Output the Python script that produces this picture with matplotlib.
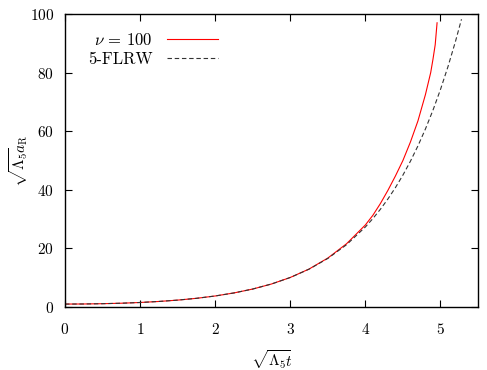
import matplotlib
matplotlib.use("Agg")
import matplotlib.pyplot as plt

# --- data ---
t_flrw = [0.0, 0.25, 0.5, 0.75, 1.0, 1.25, 1.5, 1.75, 2.0, 2.25, 2.5, 2.75,
          3.0, 3.25, 3.5, 3.75, 4.0, 4.1, 4.2, 4.3, 4.4, 4.5, 4.6, 4.7,
          4.8, 4.9, 5.0, 5.1, 5.2, 5.28]
a_flrw = [1.00, 1.03, 1.13, 1.29, 1.54, 1.89, 2.35, 2.96, 3.76, 4.80, 6.13, 7.85,
          10.07, 12.91, 16.57, 21.27, 27.31, 30.18, 33.35, 36.86, 40.73, 45.01, 49.75, 54.98,
          60.76, 67.15, 74.21, 82.02, 90.64, 98.2]

t_nu = [0.0, 0.25, 0.5, 0.75, 1.0, 1.25, 1.5, 1.75, 2.0, 2.25, 2.5, 2.75,
        3.0, 3.25, 3.5, 3.75, 4.0, 4.1, 4.2, 4.3, 4.4, 4.5, 4.6, 4.7,
        4.8, 4.87, 4.9, 4.93, 4.955]
a_nu = [1.00, 1.03, 1.13, 1.29, 1.54, 1.89, 2.35, 2.96, 3.76, 4.80, 6.13, 7.85,
        10.08, 12.95, 16.7, 21.6, 28.0, 31.3, 35.3, 39.8, 44.7, 50.0, 56.3, 63.5,
        72.5, 80.0, 84.5, 89.5, 97.0]

label_nu = r"$\nu$ = 100"
label_flrw = "5-FLRW"
xticks = [0, 1, 2, 3, 4, 5]
yticks = [0, 20, 40, 60, 80, 100]

plt.rcParams["font.family"] = "serif"
plt.rcParams["font.serif"] = ["cmr10", "DejaVu Serif"]
plt.rcParams["mathtext.fontset"] = "cm"
plt.rcParams["axes.formatter.use_mathtext"] = True
plt.rcParams["font.size"] = 11

fig = plt.figure(figsize=(4.87, 3.70), dpi=100)
ax = fig.add_axes([65/487, 1-307/370, (478-65)/487, (307-14)/370])

ax.plot(t_nu, a_nu, color="#ff0000", lw=0.8, label=label_nu)
ax.plot(t_flrw, a_flrw, color="#333333", lw=0.8, dashes=(4, 2.5), label=label_flrw)

ax.set_xlim(0, 5.5)
ax.set_ylim(0, 100)
ax.set_xticks(xticks)
ax.set_yticks(yticks)
ax.tick_params(direction="in", length=5, width=0.8, top=True, right=True,
               labelsize=11)
ax.tick_params(axis="x", pad=11)
ax.tick_params(axis="y", pad=8)
for s in ax.spines.values():
    s.set_linewidth(1.0)

ax.set_xlabel(r"$\sqrt{\Lambda_5}\!t$", fontsize=11, labelpad=8)
ax.set_ylabel(r"$\sqrt{\Lambda_5}\!a_{\rm R}$", fontsize=11, labelpad=0)

leg = ax.legend(loc="upper left", bbox_to_anchor=(23/413, 1-18/293),
                frameon=False, markerfirst=False, handlelength=3.05,
                borderpad=0, borderaxespad=0, labelspacing=0.2,
                handletextpad=0.85, fontsize=12)

fig.savefig("out.png", dpi=100)
